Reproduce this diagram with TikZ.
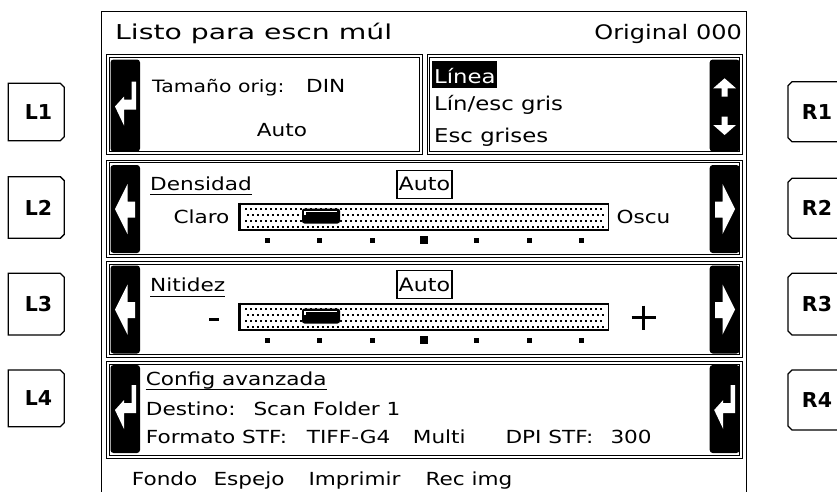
\documentclass[tikz,border=0pt]{standalone}
\usepackage{fontspec}
\setmainfont[FakeStretch=1.2]{DejaVu Sans}
\newfontfamily\ttlfont[FakeStretch=1.38]{DejaVu Sans}
\newfontfamily\btnfont{DejaVu Sans}
\newcommand\lcdpanel[4]{\draw[pline] (#1,#2) rectangle (#3,#4);
  \draw[pline] ({#1+2.6},{#2+2.6}) rectangle ({#3-2.6},{#4-2.6});}
\newcommand\enterIcon[2]{\fill[white] ({#1+21},{#2-24}) -- ({#1+25.5},{#2-24}) -- ({#1+25.5},{#2+4}) -- ({#1+13.5},{#2+4}) -- ({#1+13.5},{#2+20}) -- ({#1+4.5},{#2+1}) -- ({#1+13.5},{#2-9}) -- ({#1+13.5},{#2-6}) -- ({#1+21},{#2-6}) -- cycle;}
\newcommand\leftArrowIcon[2]{\fill[white] ({#1+4.5},{#2}) -- ({#1+17},{#2-25}) -- ({#1+17},{#2-7.5}) -- ({#1+24.5},{#2-7.5}) -- ({#1+24.5},{#2+8.5}) -- ({#1+17},{#2+8.5}) -- ({#1+17},{#2+25}) -- cycle;}
\newcommand\rightArrowIcon[2]{\fill[white] ({#1-4.5},{#2}) -- ({#1-17},{#2-25}) -- ({#1-17},{#2-7.5}) -- ({#1-24.5},{#2-7.5}) -- ({#1-24.5},{#2+8.5}) -- ({#1-17},{#2+8.5}) -- ({#1-17},{#2+25}) -- cycle;}
\newcommand\sliderbar[1]{%
  \fill[white] (240,#1) rectangle (609,{#1+27});
  \foreach \r in {0,...,3} \foreach \i in {0,...,71}
    \fill ({245.5+5*\i+2.5*mod(\r,2)-1},{#1+5.5+6*\r-1}) rectangle ++(2,2);
  \draw[line width=1pt] (240,#1) rectangle (608.5,{#1+27});
  \draw[line width=2.6pt] (239.5,{#1-0.5}) -- (239.5,{#1+27.5});
  \draw[line width=2.4pt] (239,{#1+1}) -- (608,{#1+1});
  \draw[line width=1.6pt] (239,{#1+26.5}) -- (608,{#1+26.5});
  \fill[rounded corners=2.5pt] (302,{#1+5.5}) rectangle (340,{#1+20.5});
  \draw[white, line width=1.2pt] (305,{#1+12}) -- (305,{#1+8.6}) -- (337,{#1+8.6});}
\newcommand\tickrow[1]{%
  \foreach \k in {0,1,2,4,5,6} \fill ({267.5+52.3*\k-2.5},{#1-2.5}) rectangle ++(5,5);
  \fill ({424.4-4},{#1-4}) rectangle ++(8,8);}
\newcommand\lbtn[3]{\draw[btn] (8.3,#2) -- (60.3,#2) -- (64.3,{#2+4}) -- (64.3,{#3-4}) -- (60.3,#3) -- (8.3,#3) -- cycle;
  \node[btnlbl] (#1) at (38.5,{(#2+#3)/2}) {#1};}
\newcommand\rbtn[3]{\draw[btn] (850,#2) -- (792,#2) -- (788,{#2+4}) -- (788,{#3-4}) -- (792,#3) -- (850,#3);
  \node[btnlbl] (#1) at (817,{(#2+#3)/2}) {#1};}
\begin{document}
\begin{tikzpicture}[x=1pt,y=-1pt,
  frame/.style={line width=1.4pt},
  pline/.style={line width=1pt},
  blk/.style={fill=black, rounded corners=3pt},
  txt/.style={anchor=base west, inner sep=0pt, font=\fontsize{18}{20}\selectfont},
  txtl/.style={anchor=base west, inner sep=0pt, font=\fontsize{19}{21}\selectfont},
  ttl/.style={anchor=base west, inner sep=0pt, font=\ttlfont\fontsize{20.5}{24}\selectfont},
  btn/.style={line width=1.3pt},
  btnlbl/.style={font=\btnfont\bfseries\fontsize{20.5}{22}\selectfont, inner sep=0pt},
  autobox/.style={draw, line width=1.2pt, minimum width=55pt, minimum height=28pt, inner sep=0pt, font=\fontsize{18.5}{20}\selectfont},
  uline/.style={line width=1.1pt}]
\useasboundingbox (0,0) rectangle (837,491);
\clip (0,0) rectangle (837,491);
\fill[white] (0,0) rectangle (837,491);
% screen frame
\draw[frame] (101.7,492) -- (101.7,11.7) -- (746.5,11.7) -- (746.5,492);
% title
\node[ttl] (title) at (115,39.3) {Listo para escn múl};
\node[txtl, font=\fontsize{20}{22}\selectfont, anchor=base east] (orig) at (742,39.3) {Original 000};
% panels
\lcdpanel{106.5}{54.5}{422.5}{154.5}
\lcdpanel{427}{54.5}{742.5}{154.5}
\lcdpanel{106.5}{160}{742.5}{257}
\lcdpanel{106.5}{261.5}{742.5}{357.5}
\lcdpanel{106.5}{361.5}{742.5}{458}
% black side buttons
\fill[blk] (110.5,59.5) rectangle (140,151.5);
\fill[blk] (709.7,59.5) rectangle (739.5,151.5);
\fill[blk] (110.5,165) rectangle (140,253);
\fill[blk] (709.7,165) rectangle (739.5,253);
\fill[blk] (110.5,265.5) rectangle (140,353.5);
\fill[blk] (709.7,265.5) rectangle (739.5,353.5);
\fill[blk] (110.5,365) rectangle (140,453);
\fill[blk] (709.7,365) rectangle (739.5,453);
% icons
\enterIcon{110.5}{105.5}
\enterIcon{110.5}{409}
\enterIcon{709.7}{409}
\leftArrowIcon{110.5}{209}
\leftArrowIcon{110.5}{309.5}
\rightArrowIcon{739.5}{209}
\rightArrowIcon{739.5}{309.5}
% scroll arrows
\fill[white] (724.6,78.3) -- (736,88.3) -- (727.6,88.3) -- (727.6,96.7) -- (721.6,96.7) -- (721.6,88.3) -- (713.2,88.3) -- cycle;
\fill[white] (724.6,135) -- (736,125) -- (727.6,125) -- (727.6,116.7) -- (721.6,116.7) -- (721.6,125) -- (713.2,125) -- cycle;
% panel 1 texts
\node[txt, font=\fontsize{17}{20}\selectfont] (tam) at (152,92.7) {Tamaño orig:};
\node[txt] (din) at (306,92.7) {DIN};
\node[txt] (auto1) at (256.7,136.7) {Auto};
\fill (432,61) rectangle (497,88);
\node[txtl, text=white] (linea) at (434,83.3) {Línea};
\node[txtl] (lingris) at (434,110.5) {Lín/esc gris};
\node[txtl] (escg) at (434,142.5) {Esc grises};
% panel 2
\node[txt] (dens) at (150,190) {Densidad};
\draw[uline] ([yshift=-4.3pt]dens.base west) -- ([yshift=-4.3pt]dens.base east);
\node[autobox] (a2) at (424.5,184.2) {Auto};
\node[txt] (claro) at (173.3,223.3) {Claro};
\node[txt] (oscu) at (616.3,223.3) {Oscu};
\sliderbar{203}
\tickrow{240}
% panel 3
\node[txt] (nit) at (150,291.7) {Nitidez};
\draw[uline] ([yshift=-4.8pt]nit.base west) -- ([yshift=-4.8pt]nit.base east);
\node[autobox] (a3) at (424.5,284.7) {Auto};
\sliderbar{303}
\tickrow{340}
\fill (208.5,317.8) rectangle (218.5,320.8);
\draw[line width=3pt] (631.5,317.5) -- (655.5,317.5);
\draw[line width=3pt] (643.5,305.5) -- (643.5,329.5);
% panel 4
\node[txt] (cfg) at (145.7,385) {Config avanzada};
\draw[uline] ([yshift=-4.3pt]cfg.base west) -- ([yshift=-4.3pt]cfg.base east);
\node[txt] (dest) at (145.7,415) {Destino:};
\node[txt] (scan) at (253.3,415) {Scan Folder 1};
\node[txt] (fmt) at (145.7,443.3) {Formato STF:};
\node[txt] (tiff) at (306.7,443.3) {TIFF-G4};
\node[txt] (multi) at (412.7,443.3) {Multi};
\node[txt] (dpi) at (505.3,443.3) {DPI STF:};
\node[txt] (dpiv) at (610.3,443.3) {300};
% bottom line
\node[txt] (fondo) at (131.7,485) {Fondo};
\node[txt] (espejo) at (213.3,485) {Espejo};
\node[txt] (impr) at (308.3,485) {Imprimir};
\node[txt] (rec) at (425.3,485) {Rec img};
% side keys
\lbtn{L1}{83.3}{140.7}
\lbtn{L2}{176.7}{238.3}
\lbtn{L3}{273.3}{335}
\lbtn{L4}{370}{426.7}
\rbtn{R1}{81.7}{141.7}
\rbtn{R2}{178.3}{238.3}
\rbtn{R3}{273.3}{335}
\rbtn{R4}{370}{430}
\end{tikzpicture}
\end{document}
